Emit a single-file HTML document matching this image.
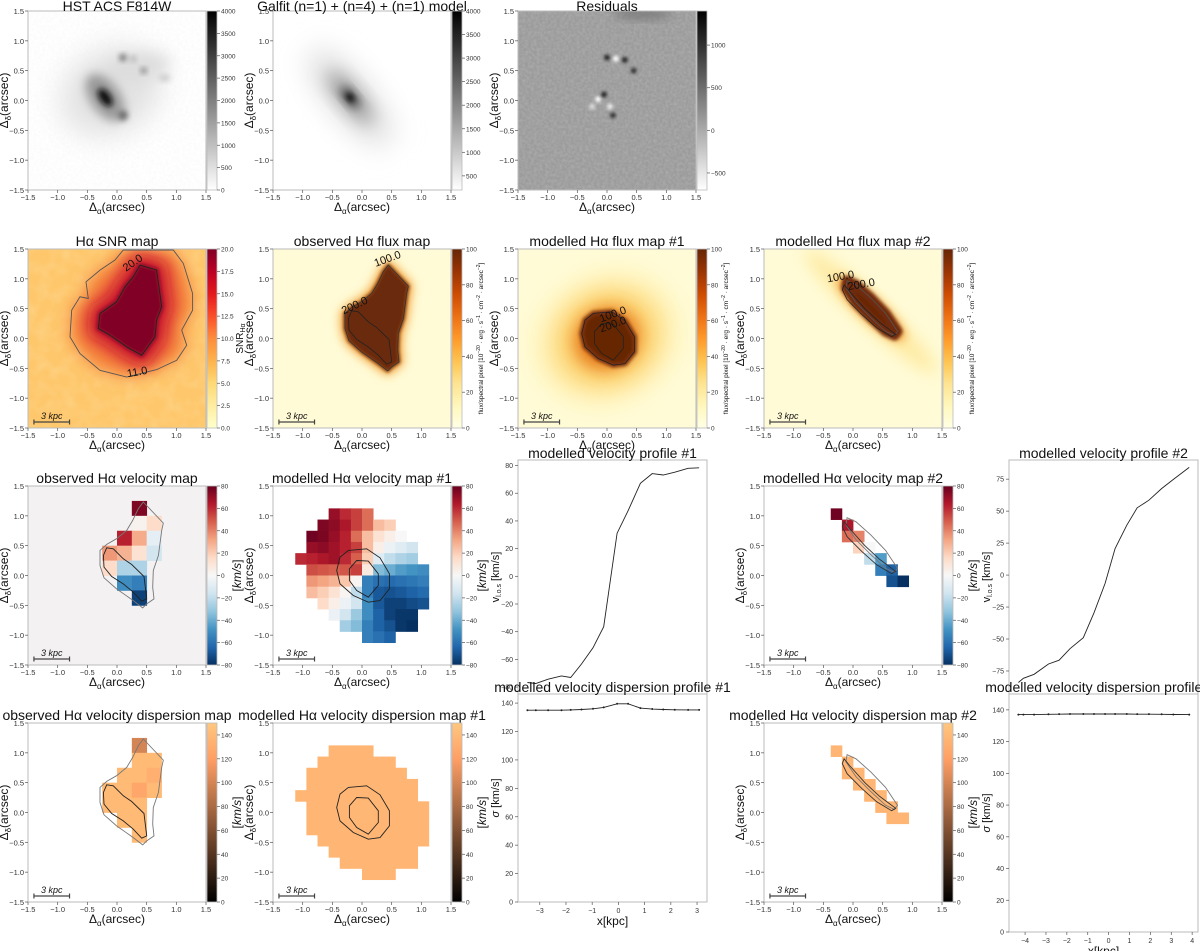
<!DOCTYPE html>
<html><head><meta charset="utf-8">
<style>
body{margin:0;background:#fff;width:1200px;height:951px;overflow:hidden}
svg{display:block;font-family:"Liberation Sans","DejaVu Sans",sans-serif}
</style></head>
<body>
<svg id="fig" width="1200" height="951" viewBox="0 0 1200 951">
<defs>
<filter id="b1" x="-50%" y="-50%" width="200%" height="200%"><feGaussianBlur stdDeviation="1.5"/></filter>
<filter id="b3" x="-50%" y="-50%" width="200%" height="200%"><feGaussianBlur stdDeviation="3"/></filter>
<filter id="b5" x="-50%" y="-50%" width="200%" height="200%"><feGaussianBlur stdDeviation="5"/></filter>
<filter id="b8" x="-50%" y="-50%" width="200%" height="200%"><feGaussianBlur stdDeviation="8"/></filter>
<filter id="b14" x="-80%" y="-80%" width="260%" height="260%"><feGaussianBlur stdDeviation="14"/></filter>
<filter id="noise" x="0" y="0" width="100%" height="100%">
<feTurbulence type="fractalNoise" baseFrequency="0.35" numOctaves="2" seed="3"/>
<feColorMatrix type="matrix" values="0 0 0 0 0.5  0 0 0 0 0.5  0 0 0 0 0.5  0.9 0 0 0 -0.25"/>
</filter>
<filter id="noise2" x="0" y="0" width="100%" height="100%">
<feTurbulence type="fractalNoise" baseFrequency="0.08" numOctaves="2" seed="7"/>
<feColorMatrix type="matrix" values="0 0 0 0 1  0 0 0 0 0.85  0 0 0 0 0.5  0.8 0 0 0 -0.3"/>
</filter>
</defs>
</svg>
<script>
// ---------------- data ----------------
const mapTicks = [-1.5,-1.0,-0.5,0.0,0.5,1.0,1.5];
const obsVel = [
 [null,null,75,null],
 [null,null,3,15],
 [null,62,30,-8],
 [35,28,12,-15],
 [15,-25,-25,null],
 [null,-50,-55,null],
 [null,null,-75,null]];
const obsDisp = [
 [null,null,100,null],
 [null,null,140,140],
 [null,140,140,132],
 [140,140,125,140],
 [140,140,140,null],
 [null,140,140,null],
 [null,null,140,null]];
const _=null;
const vel1 = [
 [_,_,_,70,60,55,45,_,_,_,_,_],
 [_,_,75,72,65,55,45,25,20,_,_,_],
 [_,78,76,70,62,45,25,12,5,0,_,_],
 [_,70,72,68,62,55,25,5,-5,-10,-15,_],
 [60,62,65,68,60,48,20,-10,-20,-25,-28,_],
 [_,52,50,48,50,55,8,-35,-40,-45,-48,-50],
 [_,35,32,28,22,2,-55,-60,-62,-60,-58,-55],
 [_,25,20,12,2,-20,-55,-68,-70,-68,-65,-62],
 [_,_,15,5,-5,-15,-50,-68,-75,-75,-72,-70],
 [_,_,_,-5,-15,-30,-50,-65,-75,-78,-78,_],
 [_,_,_,_,-28,-35,-55,-65,-70,-78,-80,_],
 [_,_,_,_,_,_,-55,-60,-65,_,_,_]];
const disp1 = [
 [_,_,_,137,137,137,137,_,_,_,_,_],
 [_,_,137,137,137,137,137,137,137,_,_,_],
 [_,137,137,137,137,137,137,137,137,137,_,_],
 [_,137,137,137,137,137,137,137,137,137,137,_],
 [137,137,137,137,137,137,137,137,137,137,137,_],
 [_,137,137,137,137,138,138,137,137,137,137,137],
 [_,137,137,137,137,138,138,137,137,137,137,137],
 [_,137,137,137,137,137,137,137,137,137,137,137],
 [_,_,137,137,137,137,137,137,137,137,137,137],
 [_,_,_,137,137,137,137,137,137,137,137,_],
 [_,_,_,_,137,137,137,137,137,137,137,_],
 [_,_,_,_,_,_,137,137,137,_,_,_]];
const vel2 = [
 [78,_,_,_,_,_,_],
 [_,65,_,_,_,_,_],
 [_,45,40,_,_,_,_],
 [_,_,18,0,_,_,_],
 [_,_,_,-20,-45,_,_],
 [_,_,_,_,-55,-65,_],
 [_,_,_,_,_,-70,-80]];
const disp2 = [
 [137,_,_,_,_,_,_],
 [_,137,_,_,_,_,_],
 [_,137,137,_,_,_,_],
 [_,_,137,137,_,_,_],
 [_,_,_,137,137,_,_],
 [_,_,_,_,137,137,_],
 [_,_,_,_,_,137,137]];
const obsOuter = [[0.444,1.232],[0.781,0.879],[0.753,0.756],[0.697,0.336],[0.612,0.084],[0.601,-0.196],[0.624,-0.392],[0.5,-0.476],[0.433,-0.543],[0.275,-0.42],[-0.006,-0.224],[-0.219,-0.039],[-0.287,0.168],[-0.287,0.42],[-0.174,0.521],[-0.006,0.616],[0.163,0.756],[0.264,0.924],[0.359,1.12]];
const obsInner = [[-0.174,0.465],[-0.062,0.448],[0.107,0.28],[0.247,0.185],[0.455,-0.017],[0.5,-0.392],[0.416,-0.431],[0.275,-0.28],[0.107,-0.14],[-0.09,-0.017],[-0.219,0.14],[-0.23,0.336]];
const m1Outer = [[-0.23,0.42],[0.079,0.448],[0.303,0.297],[0.461,0.028],[0.461,-0.224],[0.303,-0.42],[0.107,-0.448],[-0.146,-0.336],[-0.371,-0.14],[-0.427,0.084],[-0.371,0.308]];
const m1Inner = [[-0.09,0.252],[0.107,0.241],[0.275,0.028],[0.275,-0.168],[0.107,-0.364],[-0.09,-0.252],[-0.213,-0.084],[-0.213,0.112]];
const m2Outer = [[-0.1,0.97],[0.05,0.9],[0.3,0.68],[0.55,0.42],[0.75,0.12],[0.7,0.05],[0.55,0.12],[0.3,0.35],[0.05,0.6],[-0.12,0.85]];
const m2Inner = [[-0.15,0.9],[-0.05,0.78],[0.2,0.5],[0.45,0.27],[0.72,0.07],[0.65,0.03],[0.4,0.18],[0.15,0.4],[-0.1,0.65],[-0.18,0.82]];
const snr11 = [[0.107,1.483],[0.949,1.483],[1.118,1.259],[1.275,0.755],[1.275,0.475],[1.09,0.139],[1.174,-0.113],[1.006,-0.365],[0.668,-0.521],[0.163,-0.645],[-0.287,-0.533],[-0.624,-0.253],[-0.792,0.027],[-0.764,0.475],[-0.624,0.699],[-0.483,0.671],[-0.523,0.951],[-0.287,1.147],[-0.034,1.315]];
const snr20 = [[0.388,1.231],[0.668,1.147],[0.753,0.531],[0.668,0.307],[0.64,0.027],[0.416,-0.281],[0.163,-0.141],[-0.118,0.055],[-0.315,0.167],[-0.287,0.419],[-0.006,0.615],[0.135,0.867],[0.275,1.035]];
const p1x = [-3.47,-3.15,-2.68,-2.17,-1.82,-1.41,-0.97,-0.56,-0.05,0.37,0.84,1.29,1.71,2.15,2.66,3.08];
const p1v = [-76.7,-77.4,-74.3,-71.9,-73.1,-63.4,-51.6,-36.4,31.1,47.4,67.2,74.2,73.2,75.2,78,78.4];
const p1s = [135,135,135,135,135.2,135.5,136,137,139.5,139.5,136.5,135.8,135.5,135.3,135.2,135.2];
const p2x = [-4.32,-4.08,-3.57,-2.88,-2.37,-1.85,-1.21,-0.70,-0.17,0.31,0.87,1.37,1.93,2.54,3.10,3.86];
const p2v = [-84,-80.7,-77.6,-69.5,-66.6,-57.6,-49,-29.5,-6.5,20.8,39,52.6,58.6,67.7,74.8,84.2];
const p2s = [137,137,137,137.2,137.3,137.4,137.4,137.4,137.4,137.4,137.4,137.3,137.3,137.2,137.1,137];
const p1xTicks=[-3,-2,-1,0,1,2,3], p1vTicks=[-80,-60,-40,-20,0,20,40,60,80], p1sTicks=[0,20,40,60,80,100,120,140];
const p2xTicks=[-4,-3,-2,-1,0,1,2,3,4], p2vTicks=[-75,-50,-25,0,25,50,75], p2sTicks=[0,20,40,60,80,100,120,140];

// -------------- helpers --------------
const NS='http://www.w3.org/2000/svg';
const svg=document.getElementById('fig');
const defs=svg.querySelector('defs');
function mk(tag,attrs,parent){const e=document.createElementNS(NS,tag);for(const k in attrs)e.setAttribute(k,attrs[k]);(parent||svg).appendChild(e);return e;}
function hex(c){return '#'+c.map(v=>Math.max(0,Math.min(255,Math.round(v))).toString(16).padStart(2,'0')).join('');}
function h2c(h){return [1,3,5].map(i=>parseInt(h.substr(i,2),16));}
function stopsMap(stops){return t=>{t=Math.max(0,Math.min(1,t));const n=stops.length-1;const i=Math.min(n-1,Math.floor(t*n));const f=t*n-i;const a=h2c(stops[i]),b=h2c(stops[i+1]);return hex(a.map((v,k)=>v+(b[k]-v)*f));};}
const RDBU=stopsMap(['#053061','#2166ac','#4393c3','#92c5de','#d1e5f0','#f7f7f7','#fddbc7','#f4a582','#d6604d','#b2182b','#67001f']);
const YLORRD=stopsMap(['#ffffcc','#ffeda0','#fed976','#feb24c','#fd8d3c','#fc4e2a','#e31a1c','#bd0026','#800026']);
const YLORBR=stopsMap(['#ffffe5','#fff7bc','#fee391','#fec44f','#fe9929','#ec7014','#cc4c02','#993404','#662506']);
const GREYS=stopsMap(['#ffffff','#000000']);
const COPPER=t=>{t=Math.max(0,Math.min(1,t));return hex([Math.min(1,1.25*t)*255,0.7812*t*255,0.4975*t*255]);};
let gid=0;
function gradient(cm){const id='g'+(gid++);const g=mk('linearGradient',{id:id,x1:0,y1:1,x2:0,y2:0},defs);for(let i=0;i<=20;i++)mk('stop',{offset:i/20,'stop-color':cm(i/20)},g);return id;}
const fmt=v=>(v<0?'\u2212':'')+Math.abs(v).toFixed(1);

const MW=178, MH=179;
const COLS=[28,273,518,764], ROWS=[11,249,486,723];
function panel(ci,ri){const p={L:COLS[ci],T:ROWS[ri],W:MW,H:MH,id:'p'+ci+ri,ri:ri};
 p.sx=x=>p.L+(x+1.5)/3*MW; p.sy=y=>p.T+(1.5-y)/3*MH;
 const cp=mk('clipPath',{id:'c'+p.id},defs);mk('rect',{x:p.L,y:p.T,width:MW,height:MH},cp);
 p.g=mk('g',{'clip-path':'url(#c'+p.id+')'});
 
 
 return p;}
function pts(p,arr){return arr.map(a=>p.sx(a[0]).toFixed(1)+','+p.sy(a[1]).toFixed(1)).join(' ');}
function cells(p,grid,x0,y0,step,cm,vmin,vmax){
 grid.forEach((row,j)=>row.forEach((v,i)=>{if(v===null)return;
  const x=p.sx(x0+i*step),y=p.sy(y0-j*step);
  const r=mk('rect',{x:x.toFixed(2),y:y.toFixed(2),width:(step/3*MW+0.4).toFixed(2),height:(step/3*MH+0.4).toFixed(2),fill:cm((v-vmin)/(vmax-vmin))},p.g);
  
  }));}
function contour(p,arr,color,w,name){const c=mk('polygon',{points:pts(p,arr),fill:'none',stroke:color,'stroke-width':w||0.9},p.g);
 
 return c;}
function clabel(p,x,y,txt,rot){const t=mk('text',{x:p.sx(x),y:p.sy(y),'font-size':11,fill:'#111','text-anchor':'middle',transform:'rotate('+rot+' '+p.sx(x)+' '+p.sy(y)+')'});t.textContent=txt;
 
 }
function frame(p,title,cm,vmin,vmax,cticks,clabelTxt,clabelSize,ctfmt,scalebar,clx){
 const f=mk('rect',{x:p.L,y:p.T,width:MW,height:MH,fill:'none',stroke:'#bbb','stroke-width':1});
 
 
 const t=mk('text',{x:p.L+MW/2,y:p.ri===0?p.T:p.T-3,'font-size':14,'text-anchor':'middle',fill:'#111'});t.textContent=title;
 
 
 mapTicks.forEach(v=>{
  const ty=mk('text',{x:p.L-4,y:p.sy(v)+3,'font-size':7.5,'text-anchor':'end',fill:'#333'});ty.textContent=fmt(v);
  
  
  mk('line',{x1:p.L-3,x2:p.L,y1:p.sy(v),y2:p.sy(v),stroke:'#555','stroke-width':0.7});
  const tx=mk('text',{x:p.sx(v),y:p.T+MH+10,'font-size':7.5,'text-anchor':'middle',fill:'#333'});tx.textContent=fmt(v);
  
  
  mk('line',{x1:p.sx(v),x2:p.sx(v),y1:p.T+MH,y2:p.T+MH+3,stroke:'#555','stroke-width':0.7});
 });
 const xl=mk('text',{x:p.L+MW/2,y:p.T+MH+21,'font-size':12,'text-anchor':'middle',fill:'#111'});
 xl.innerHTML='\u0394<tspan font-size="8" dy="3">\u03b1</tspan><tspan dy="-3">(arcsec)</tspan>';
 
 
 const ycx=p.L-20, ycy=p.T+MH/2;
 const yl=mk('text',{x:ycx,y:ycy,'font-size':12,'text-anchor':'middle',fill:'#111',transform:'rotate(-90 '+ycx+' '+ycy+')'});
 yl.innerHTML='\u0394<tspan font-size="8" dy="3">\u03b4</tspan><tspan dy="-3">(arcsec)</tspan>';
 
 
 const cx=p.L+MW+1, gidc=gradient(cm);
 const cb=mk('rect',{x:cx,y:p.T,width:10,height:MH,fill:'url(#'+gidc+')',stroke:'#bbb','stroke-width':0.8});
 
 
 cticks.forEach(v=>{const y=p.T+MH-(v-vmin)/(vmax-vmin)*MH;
  mk('line',{x1:cx+10,x2:cx+13,y1:y,y2:y,stroke:'#555','stroke-width':0.7});
  const ct=mk('text',{x:cx+14,y:y+2.5,'font-size':6.5,fill:'#333'});ct.textContent=ctfmt(v);
  
  });
 if(clabelTxt){const lx=cx+clx, ly=p.T+MH/2;
  const cl=mk('text',{x:lx,y:ly,'font-size':clabelSize,'text-anchor':'middle',fill:'#111',transform:'rotate(-90 '+lx+' '+ly+')'});
  cl.innerHTML=clabelTxt;
  
  }
 if(scalebar){const x1=p.sx(-1.4),x2=p.sx(-0.8),y=p.sy(-1.4);
  const sb=mk('path',{d:`M${x1},${y}H${x2}M${x1},${y-2.5}V${y+2.5}M${x2},${y-2.5}V${y+2.5}`,stroke:'#444','stroke-width':1.2,fill:'none'});
  
  
  const st=mk('text',{x:(x1+x2)/2,y:y-3,'font-size':9,'font-style':'italic','text-anchor':'middle',fill:'#111'});st.textContent='3 kpc';
  
  }
}
const intf=v=>(v<0?'\u2212':'')+Math.abs(v);
const f1=v=>v.toFixed(1);
const FLUXLBL='flux/spectral pixel [10<tspan font-size="5" dy="-3">\u221220</tspan><tspan dy="3"> \u00b7 erg \u00b7 s</tspan><tspan font-size="5" dy="-3">\u22121</tspan><tspan dy="3"> \u00b7 cm</tspan><tspan font-size="5" dy="-3">\u22122</tspan><tspan dy="3"> \u00b7 arcsec</tspan><tspan font-size="5" dy="-3">\u22122</tspan><tspan dy="3">]</tspan>';
const KMS='[<tspan font-style="italic">km/s</tspan>]';
function E(p,x,y,rx,ry,rot,fill,filt,op){const cx=p.sx(x),cy=p.sy(y);const e=mk('ellipse',{cx:cx,cy:cy,rx:rx/3*MW,ry:ry/3*MH,fill:fill,transform:`rotate(${rot} ${cx} ${cy})`},p.g);if(filt)e.setAttribute('filter','url(#'+filt+')');if(op)e.setAttribute('opacity',op);return e;}
function bg(p,fill){mk('rect',{x:p.L,y:p.T,width:MW,height:MH,fill:fill},p.g);}

// ---------- Row 1 ----------
let p=panel(0,0); bg(p,'#fff');
mk('rect',{x:p.L,y:p.T,width:MW,height:MH,filter:'url(#noise)',opacity:0.12},p.g);
E(p,-0.1,0.15,0.9,0.7,-30,'#e2e2e2','b14');
E(p,0.35,0.55,0.55,0.22,-10,'#dcdcdc','b8');
E(p,-0.2,0.05,0.25,0.45,-35,'#999','b5');
E(p,-0.2,0.05,0.09,0.17,-35,'#111','b3');
E(p,0.1,-0.25,0.08,0.08,0,'#666','b3');
E(p,0.1,0.72,0.06,0.06,0,'#666','b3');
E(p,0.27,0.7,0.05,0.05,0,'#aaa','b3');
E(p,0.45,0.5,0.05,0.05,0,'#777','b3');
E(p,0.8,0.38,0.1,0.06,0,'#ccc','b3');
frame(p,'HST ACS F814W',GREYS,0,4000,[0,500,1000,1500,2000,2500,3000,3500,4000],null,0,intf,false,0);

p=panel(1,0); bg(p,'#fff');
E(p,-0.2,0.05,0.35,1.0,-40,'#dcdcdc','b14');
E(p,-0.2,0.05,0.2,0.55,-40,'#aaa','b8');
E(p,-0.2,0.05,0.1,0.22,-40,'#444','b5');
E(p,-0.2,0.05,0.05,0.08,-40,'#000','b3');
frame(p,'Galfit  (n=1) + (n=4) + (n=1) model',GREYS,200,4000,[500,1000,1500,2000,2500,3000,3500,4000],null,0,intf,false,0);

p=panel(2,0); bg(p,'#9b9b9b');
mk('rect',{x:p.L,y:p.T,width:MW,height:MH,filter:'url(#noise)',opacity:0.9},p.g);
E(p,0.6,1.45,0.5,0.08,0,'#777','b5');
[[0.0,0.72,'#222'],[0.15,0.7,'#fff'],[0.3,0.68,'#222'],[0.45,0.5,'#333'],[-0.15,0.02,'#fff'],[-0.05,0.1,'#222'],[0.05,-0.1,'#eee'],[0.1,-0.25,'#333'],[-0.25,-0.1,'#ddd']].forEach(s=>E(p,s[0],s[1],0.05,0.05,0,s[2],'b1'));
frame(p,'Residuals',GREYS,-700,1400,[-500,0,500,1000],null,0,intf,false,0);

// ---------- Row 2 ----------
p=panel(0,1); bg(p,'#fec76c');
mk('rect',{x:p.L,y:p.T,width:MW,height:MH,filter:'url(#noise2)',opacity:0.6},p.g);
mk('polygon',{points:pts(p,snr11),fill:'#f4803a',filter:'url(#b8)'},p.g);
mk('polygon',{points:pts(p,snr20),fill:'none',stroke:'#c8102e','stroke-width':22,'stroke-linejoin':'round',filter:'url(#b8)'},p.g);
mk('polygon',{points:pts(p,snr20),fill:'#800026',stroke:'#8a0a28','stroke-width':4,'stroke-linejoin':'round',filter:'url(#b1)'},p.g);
contour(p,snr11,'#555',0.9,'snr-contour-11');contour(p,snr20,'#222',0.9,'snr-contour-20');
clabel(p,0.3,1.22,'20.0',-35);clabel(p,0.35,-0.62,'11.0',-10);
frame(p,'H\u03b1 SNR map',YLORRD,0,20,[0,2.5,5,7.5,10,12.5,15,17.5,20],'SNR<tspan font-size="7" dy="2">H\u03b1</tspan>',10,f1,true,36);

p=panel(1,1); bg(p,'#fffbd6');
mk('polygon',{points:pts(p,obsOuter),fill:'#f39a2c',stroke:'#f39a2c','stroke-width':8,'stroke-linejoin':'round',filter:'url(#b5)'},p.g);
mk('polygon',{points:pts(p,obsOuter),fill:'#6b2a08',stroke:'#7a330a','stroke-width':3,'stroke-linejoin':'round',filter:'url(#b1)'},p.g);
contour(p,obsOuter,'#333',0.8,'flux-contour-100');contour(p,obsInner,'#222',0.8,'flux-contour-200');
clabel(p,0.45,1.28,'100.0',-20);clabel(p,-0.1,0.5,'200.0',-25);
frame(p,'observed H\u03b1 flux map',YLORBR,0,100,[0,20,40,60,80,100],FLUXLBL,6.5,intf,true,31);

p=panel(2,1); bg(p,'#fffbd6');
E(p,0,0,1.15,0.95,-30,'#feeba0','b14');
E(p,0,0,0.8,0.7,-30,'#fcc45a','b14');
E(p,0,0,0.55,0.5,-30,'#e57a1e','b8');
mk('polygon',{points:pts(p,m1Outer),fill:'#662506',stroke:'#7a300a','stroke-width':5,'stroke-linejoin':'round',filter:'url(#b1)'},p.g);
contour(p,m1Outer,'#222',0.8,'flux-contour-100');contour(p,m1Inner,'#222',0.8,'flux-contour-200');
clabel(p,0.12,0.35,'100.0',-20);clabel(p,0.12,0.18,'200.0',-20);
frame(p,'modelled  H\u03b1 flux map #1',YLORBR,0,100,[0,20,40,60,80,100],FLUXLBL,6.5,intf,true,31);

p=panel(3,1); bg(p,'#fffbd6');
E(p,0.3,0.45,0.22,1.5,-47,'#feeaa0','b8');
E(p,0.3,0.5,0.18,0.75,-47,'#f08a20','b5');
mk('polygon',{points:pts(p,m2Outer),fill:'#662506',stroke:'#6f2a08','stroke-width':10,'stroke-linejoin':'round',filter:'url(#b1)'},p.g);
contour(p,m2Outer,'#555',0.8,'flux-contour-100');contour(p,m2Inner,'#222',0.8,'flux-contour-200');
clabel(p,-0.2,0.98,'100.0',-10);clabel(p,0.15,0.85,'200.0',-10);
frame(p,'modelled  H\u03b1 flux map #2',YLORBR,0,100,[0,20,40,60,80,100],FLUXLBL,6.5,intf,true,31);

// ---------- Row 3 ----------
const vt=[-80,-60,-40,-20,0,20,40,60,80];
p=panel(0,2); bg(p,'#f3f1f1');
cells(p,obsVel,-0.25,1.25,0.25,RDBU,-80,80);
contour(p,obsOuter,'#777');contour(p,obsInner,'#222');
frame(p,'observed H\u03b1 velocity map',RDBU,-80,80,vt,KMS,12,intf,true,34);
p=panel(1,2); bg(p,'#fff');
cells(p,vel1,-1.125,1.125,0.1875,RDBU,-80,80);
contour(p,m1Outer,'#222');contour(p,m1Inner,'#222');
frame(p,'modelled  H\u03b1 velocity map #1',RDBU,-80,80,vt,KMS,12,intf,true,34);
p=panel(3,2); bg(p,'#fff');
cells(p,vel2,-0.375,1.125,0.1875,RDBU,-80,80);
contour(p,m2Outer,'#777');contour(p,m2Inner,'#333');
frame(p,'modelled  H\u03b1 velocity map #2',RDBU,-80,80,vt,KMS,12,intf,true,34);

// ---------- Row 4 ----------
const st=[0,20,40,60,80,100,120,140];
p=panel(0,3); bg(p,'#fff');
cells(p,obsDisp,-0.25,1.25,0.25,COPPER,0,150);
contour(p,obsOuter,'#777');contour(p,obsInner,'#222');
frame(p,'observed H\u03b1 velocity dispersion map',COPPER,0,150,st,KMS,12,intf,true,34);
p=panel(1,3); bg(p,'#fff');
cells(p,disp1,-1.125,1.125,0.1875,COPPER,0,150);
contour(p,m1Outer,'#222');contour(p,m1Inner,'#222');
frame(p,'modelled  H\u03b1 velocity dispersion map #1',COPPER,0,150,st,KMS,12,intf,true,34);
p=panel(3,3); bg(p,'#fff');
cells(p,disp2,-0.375,1.125,0.1875,COPPER,0,150);
contour(p,m2Outer,'#777');contour(p,m2Inner,'#333');
frame(p,'modelled  H\u03b1 velocity dispersion map #2',COPPER,0,150,st,KMS,12,intf,true,34);

// ---------- Profiles ----------
function profile(L,T,R,B,xlim,ylim,xs,ys,xt,yt,title,ylab,xlab,markers,name){
 const sx=x=>L+(x-xlim[0])/(xlim[1]-xlim[0])*(R-L), sy=y=>B-(y-ylim[0])/(ylim[1]-ylim[0])*(B-T);
 const f=mk('rect',{x:L,y:T,width:R-L,height:B-T,fill:'#fff',stroke:'#bbb','stroke-width':1});
 
 
 yt.forEach(v=>{mk('line',{x1:L-3,x2:L,y1:sy(v),y2:sy(v),stroke:'#555','stroke-width':0.7});
  const t=mk('text',{x:L-5,y:sy(v)+2.5,'font-size':7,'text-anchor':'end',fill:'#333'});t.textContent=intf(v);
  
  });
 if(xt)xt.forEach(v=>{mk('line',{x1:sx(v),x2:sx(v),y1:B,y2:B+3,stroke:'#555','stroke-width':0.7});
  const t=mk('text',{x:sx(v),y:B+11,'font-size':7,'text-anchor':'middle',fill:'#333'});t.textContent=intf(v);
  
  });
 const cpid='cp'+name;const cp=mk('clipPath',{id:cpid},defs);mk('rect',{x:L,y:T,width:R-L,height:B-T},cp);
 const line=mk('polyline',{points:xs.map((x,i)=>sx(x).toFixed(1)+','+sy(ys[i]).toFixed(1)).join(' '),fill:'none',stroke:'#222','stroke-width':0.9,'clip-path':'url(#'+cpid+')'});
 
 
 if(markers)xs.forEach((x,i)=>{const m=mk('circle',{cx:sx(x),cy:sy(ys[i]),r:1,fill:'#222'});
  
  });
 const tt=mk('text',{x:(L+R)/2,y:T-2,'font-size':14,'text-anchor':'middle',fill:'#111'});tt.textContent=title;
 
 
 const lx=L-19, ly=(T+B)/2;
 const yl=mk('text',{x:lx,y:ly,'font-size':11,'text-anchor':'middle',fill:'#111',transform:'rotate(-90 '+lx+' '+ly+')'});yl.innerHTML=ylab;
 
 
 if(xlab){const xl=mk('text',{x:(L+R)/2,y:B+23,'font-size':12,'text-anchor':'middle',fill:'#111'});xl.textContent=xlab;
  
  }
}
const VL='v<tspan font-size="7" dy="2">l.o.s</tspan><tspan dy="-2"> [km/s]</tspan>';
const SL='<tspan font-style="italic">\u03c3</tspan> [km/s]';
profile(518,460,707,694,[-3.83,3.38],[-85,84],p1x,p1v,null,p1vTicks,'modelled  velocity profile  #1',VL,null,false,'velocity-profile-1');
profile(518,694,707,902,[-3.83,3.38],[0,146.4],p1x,p1s,p1xTicks,p1sTicks,'modelled velocity dispersion profile #1',SL,'x[kpc]',true,'dispersion-profile-1');
profile(1009,460,1198,694,[-4.77,4.28],[-93,90],p2x,p2v,null,p2vTicks,'modelled velocity profile  #2',VL,null,false,'velocity-profile-2');
profile(1009,694,1198,932,[-4.77,4.28],[0,150],p2x,p2s,p2xTicks,p2sTicks,'modelled  velocity dispersion profile #2',SL,'x[kpc]',true,'dispersion-profile-2');
</script>
</body></html>
